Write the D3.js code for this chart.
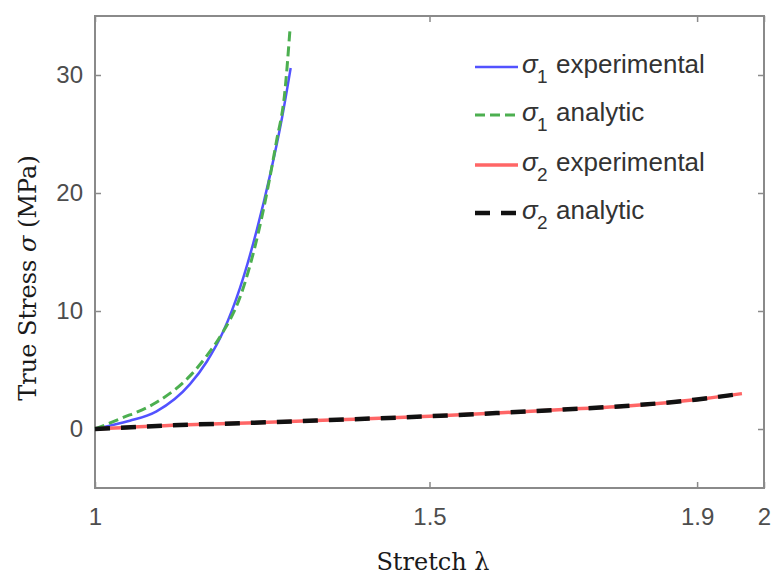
<!DOCTYPE html>
<html>
<head>
<meta charset="utf-8">
<script src="https://cdn.jsdelivr.net/npm/d3@7"></script>
<style>
  body { margin: 0; background: #fff; }
</style>
</head>
<body>
<div id="myVis"></div>
<script>
var width = 776;
var height = 576;

// stretch / stress data
var s1ExpLambda = [1, 1.022, 1.052, 1.092, 1.142, 1.167, 1.192, 1.217, 1.242, 1.262, 1.279, 1.2925];
var s1ExpStress = [0, 0.28, 0.7, 1.5, 3.8, 5.7, 8.3, 12.0, 16.9, 21.6, 26.2, 30.6];

var s1AnaLambda = [1, 1.037, 1.092, 1.142, 1.167, 1.19, 1.217, 1.244, 1.271, 1.284, 1.2915];
var s1AnaStress = [0, 0.85, 2.26, 4.5, 6.2, 8.1, 11.2, 16.6, 24.3, 28.7, 33.9];

var s2Lambda = [1, 1.127, 1.227, 1.351, 1.5, 1.6, 1.7, 1.8, 1.9, 1.967];
var s2ExpStress = [0, 0.34, 0.51, 0.76, 1.08, 1.35, 1.65, 1.98, 2.5, 3.0];
var s2AnaStress = [0, 0.34, 0.51, 0.76, 1.08, 1.35, 1.65, 1.98, 2.5, 3.0];

var xTicks = [1, 1.5, 1.9, 2];
var yTicks = [0, 10, 20, 30];

var legendLabels = [
  { sub: "1", text: "experimental" },
  { sub: "1", text: "analytic" },
  { sub: "2", text: "experimental" },
  { sub: "2", text: "analytic" }
];

var plotLeft = 95, plotRight = 764, plotTop = 16, plotBottom = 488;

var svg = d3.select("#myVis")
            .append("svg")
            .attr("width", width)
            .attr("height", height)
            .style("background-color", "#fff");

var x = d3.scaleLinear().domain([1, 2]).range([plotLeft, plotRight]);
var y = d3.scaleLinear().domain([-5, 35]).range([plotBottom, plotTop]);

var axisColor = "#8a8a8a";
var labelColor = "#4d4d4d";
var tickFont = "'Liberation Sans', Arial, sans-serif";

// box with ticks pointing inwards on all four sides
var gLeft = svg.append("g")
    .attr("transform", "translate(" + plotLeft + ",0)")
    .call(d3.axisLeft(y).tickValues(yTicks).tickSizeInner(-6).tickSizeOuter(0).tickPadding(12));
var gBottom = svg.append("g")
    .attr("transform", "translate(0," + plotBottom + ")")
    .call(d3.axisBottom(x).tickValues(xTicks).tickFormat(d3.format("")).tickSizeInner(-6).tickSizeOuter(0).tickPadding(20));
var gRight = svg.append("g")
    .attr("transform", "translate(" + plotRight + ",0)")
    .call(d3.axisRight(y).tickValues(yTicks).tickFormat("").tickSizeInner(-6).tickSizeOuter(0));
var gTop = svg.append("g")
    .attr("transform", "translate(0," + plotTop + ")")
    .call(d3.axisTop(x).tickValues(xTicks).tickFormat("").tickSizeInner(-6).tickSizeOuter(0));

[gLeft, gBottom, gRight, gTop].forEach(function(g) {
  g.select(".domain").remove();
  g.selectAll(".tick line").attr("stroke", axisColor).attr("stroke-width", 1.5);
  g.selectAll(".tick text")
    .attr("fill", labelColor)
    .style("font-family", tickFont)
    .style("font-size", "24px");
});

svg.append("rect")
    .attr("x", plotLeft)
    .attr("y", plotTop)
    .attr("width", plotRight - plotLeft)
    .attr("height", plotBottom - plotTop)
    .attr("fill", "none")
    .attr("stroke", axisColor)
    .attr("stroke-width", 2);

// curves
function makeLine(lams, vals) {
  return d3.line()
    .x(function(d, i) { return x(lams[i]); })
    .y(function(d, i) { return y(vals[i]); })
    .curve(d3.curveMonotoneX)(vals);
}

var series = [
  { lam: s1ExpLambda, val: s1ExpStress, color: "#5252ff", width: 2.5, dash: null },
  { lam: s1AnaLambda, val: s1AnaStress, color: "#4caf50", width: 3, dash: "10,5" },
  { lam: s2Lambda, val: s2ExpStress, color: "#ff6666", width: 3.5, dash: null },
  { lam: s2Lambda, val: s2AnaStress, color: "#111111", width: 4.5, dash: "15,11" }
];

series.forEach(function(s) {
  svg.append("path")
      .attr("d", makeLine(s.lam, s.val))
      .attr("fill", "none")
      .attr("stroke", s.color)
      .attr("stroke-width", s.width)
      .attr("stroke-dasharray", s.dash);
});

// legend
var legendRows = [67, 115, 165, 213];
series.forEach(function(s, i) {
  var ly = legendRows[i];
  svg.append("line")
      .attr("x1", 475).attr("x2", 518)
      .attr("y1", ly).attr("y2", ly)
      .attr("stroke", s.color)
      .attr("stroke-width", s.width)
      .attr("stroke-dasharray", s.dash);

  var t = svg.append("text")
      .attr("y", ly + 6)
      .attr("fill", "#333")
      .style("font-family", tickFont)
      .style("font-size", "26px");
  t.append("tspan").attr("x", 522).style("font-style", "italic").text("σ");
  t.append("tspan").attr("x", 537).attr("dy", 10).style("font-size", "19px").text(legendLabels[i].sub);
  t.append("tspan").attr("x", 556).attr("dy", -10).text(legendLabels[i].text);
});

// axis titles
svg.append("text")
    .attr("x", 433)
    .attr("y", 570)
    .attr("text-anchor", "middle")
    .attr("fill", "#1a1a1a")
    .style("font-family", "'DejaVu Serif', serif")
    .style("font-size", "24px")
    .text("Stretch λ");

var yTitle = svg.append("text")
    .attr("transform", "translate(36,278) rotate(-90)")
    .attr("text-anchor", "middle")
    .attr("fill", "#1a1a1a")
    .style("font-family", "'DejaVu Serif', serif")
    .style("font-size", "24px");
yTitle.append("tspan").text("True Stress ");
yTitle.append("tspan").style("font-style", "italic").text("σ");
yTitle.append("tspan").text(" (MPa)");
</script>
</body>
</html>
